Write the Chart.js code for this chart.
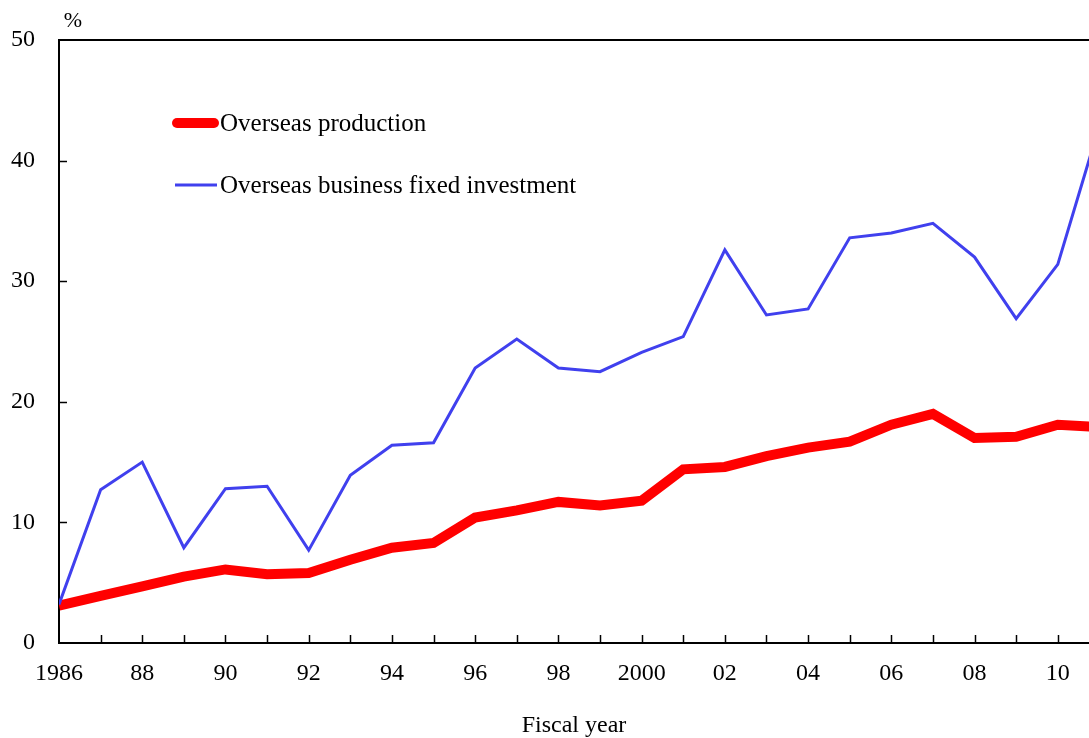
<!DOCTYPE html>
<html>
<head>
<meta charset="utf-8">
<script src="https://cdn.jsdelivr.net/npm/chart.js@4/dist/chart.umd.min.js"></script>
<style>
	html, body { margin: 0; padding: 0; background: #fff; overflow: hidden; }
	#wrap { position: relative; width: 1089px; height: 738px; }
</style>
</head>
<body>
<div id="wrap"><canvas id="chart"></canvas></div>
<script>
var years = [1986, 1987, 1988, 1989, 1990, 1991, 1992, 1993, 1994, 1995, 1996, 1997, 1998, 1999, 2000, 2001, 2002, 2003, 2004, 2005, 2006, 2007, 2008, 2009, 2010, 2011];
var produzione = [3.1, 3.9, 4.7, 5.5, 6.1, 5.7, 5.8, 6.9, 7.9, 8.3, 10.4, 11.0, 11.7, 11.4, 11.8, 14.4, 14.6, 15.5, 16.2, 16.7, 18.1, 19.0, 17.0, 17.1, 18.1, 17.9];
var investimenti = [3.2, 12.7, 15.0, 7.9, 12.8, 13.0, 7.7, 13.9, 16.4, 16.6, 22.8, 25.2, 22.8, 22.5, 24.1, 25.4, 32.6, 27.2, 27.7, 33.6, 34.0, 34.8, 32.0, 26.9, 31.4, 42.9];
var nomi = ["Overseas production", "Overseas business fixed investment"];
var yTicks = [0, 10, 20, 30, 40, 50];

function punti(valori) {
	return years.map(function (anno, i) {
		return { x: anno, y: valori[i] };
	});
}

var font = "Liberation Serif, Times New Roman, serif";

// tick interni, bordo superiore, legenda e "%"
var extra = {
	id: "extra",
	afterDraw: function (chart) {
		var ctx = chart.ctx;
		var area = chart.chartArea;
		var xs = chart.scales.x;
		var ys = chart.scales.y;
		ctx.save();
		ctx.strokeStyle = "#000";
		ctx.lineWidth = 2;
		ctx.beginPath();
		ctx.moveTo(area.left - 1, area.top);
		ctx.lineTo(area.right, area.top);
		ctx.stroke();
		ctx.lineWidth = 1.5;
		for (var a = 1987; a <= 2010; a++) {
			var px = Math.round(xs.getPixelForValue(a)) + 0.5;
			ctx.beginPath();
			ctx.moveTo(px, area.bottom);
			ctx.lineTo(px, area.bottom - 8);
			ctx.stroke();
		}
		yTicks.forEach(function (v) {
			if (v === 0 || v === 50) return;
			var py = Math.round(ys.getPixelForValue(v)) + 0.5;
			ctx.beginPath();
			ctx.moveTo(area.left, py);
			ctx.lineTo(area.left + 8, py);
			ctx.stroke();
		});
		// legenda
		ctx.lineCap = "round";
		ctx.strokeStyle = "#ff0000";
		ctx.lineWidth = 10;
		ctx.beginPath();
		ctx.moveTo(177, 123);
		ctx.lineTo(214, 123);
		ctx.stroke();
		ctx.lineCap = "butt";
		ctx.strokeStyle = "#4040ee";
		ctx.lineWidth = 3;
		ctx.beginPath();
		ctx.moveTo(175, 185);
		ctx.lineTo(217, 185);
		ctx.stroke();
		ctx.fillStyle = "#000";
		ctx.font = "25px " + font;
		ctx.textBaseline = "middle";
		ctx.textAlign = "left";
		ctx.fillText(nomi[0], 220, 124);
		ctx.fillText(nomi[1], 220, 186);
		ctx.font = "22px " + font;
		ctx.textAlign = "center";
		ctx.fillText("%", 73, 21);
		ctx.restore();
	},
};

var grafico = new Chart(document.getElementById("chart"), {
	type: "line",
	data: {
		datasets: [
			{
				label: nomi[1],
				data: punti(investimenti),
				borderColor: "#4040ee",
				borderWidth: 3,
				pointRadius: 0,
				tension: 0,
				clip: 0,
			},
			{
				label: nomi[0],
				data: punti(produzione),
				borderColor: "#ff0000",
				borderWidth: 10,
				pointRadius: 0,
				tension: 0,
				clip: 0,
			},
		],
	},
	options: {
		responsive: true,
		maintainAspectRatio: false,
		animation: false,
		layout: { padding: { top: 40, left: 0, right: 0, bottom: 0 } },
		plugins: {
			legend: { display: false },
			tooltip: { enabled: false },
		},
		scales: {
			x: {
				type: "linear",
				min: 1986,
				max: 2010.75,
				afterBuildTicks: function (scale) {
					scale.ticks = [];
					for (var a = 1986; a <= 2010; a += 2) scale.ticks.push({ value: a });
				},
				afterFit: function (scale) {
					scale.height = 95;
				},
				ticks: {
					color: "#000",
					font: { family: font, size: 24 },
					padding: 16,
					maxRotation: 0,
					autoSkip: false,
					callback: function (v) {
						if (v === 1986) return "1986";
						if (v === 2000) return "2000";
						return String(v % 100).padStart(2, "0");
					},
				},
				grid: { display: false, drawTicks: false },
				border: { display: true, color: "#000", width: 2 },
				title: {
					display: true,
					text: "Fiscal year",
					color: "#000",
					font: { family: font, size: 24 },
					padding: { top: 18, bottom: -2 },
				},
			},
			y: {
				min: 0,
				max: 50,
				afterBuildTicks: function (scale) {
					scale.ticks = yTicks.map(function (v) {
						return { value: v };
					});
				},
				afterFit: function (scale) {
					scale.width = 59;
				},
				ticks: {
					color: "#000",
					font: { family: font, size: 24 },
					padding: 24,
				},
				grid: { display: false, drawTicks: false },
				border: { display: true, color: "#000", width: 2 },
			},
		},
	},
	plugins: [extra],
});
</script>
</body>
</html>
